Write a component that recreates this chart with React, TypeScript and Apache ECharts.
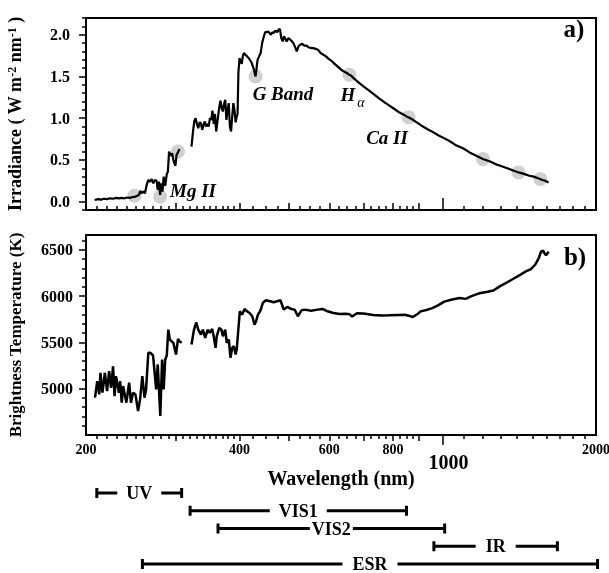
import React, { useEffect, useRef } from "react";
import * as echarts from "echarts";

const FONT = '"Liberation Serif", "Times New Roman", serif';
const lg = (w: number) => Math.log10(w);

// x axis (wavelength, nm, log scale)
const X_MIN_NM = 200;
const X_MAX_NM = 2000;
const xLabelNm = [200, 400, 600, 800, 2000];
const xBigLabelNm = [1000];
const xMajorTickNm = [300, 400, 500, 600, 700, 800, 900];
const xMinorTickNm = [
  210, 220, 230, 240, 250, 260, 270, 280, 290, 310, 320, 330, 340, 350, 360, 370, 380, 390,
  425, 450, 475, 525, 550, 575, 625, 650, 675, 725, 750, 775, 825, 850, 875,
  1100, 1200, 1300, 1400, 1500, 1600, 1700, 1800, 1900,
];

// panel a) irradiance
const IRR_MIN = -0.1;
const IRR_MAX = 2.2;
const irrLabels = [0, 0.5, 1.0, 1.5, 2.0];
const irrMinorTicks = [
  -0.1, 0.1, 0.2, 0.3, 0.4, 0.6, 0.7, 0.8, 0.9, 1.1, 1.2, 1.3, 1.4, 1.6, 1.7, 1.8, 1.9, 2.1, 2.2,
];
const irrUV: [number, number][] = [
  [208, 0.02], [211, 0.03], [214, 0.025], [217, 0.035], [220, 0.03], [223, 0.04], [226, 0.035],
  [229, 0.045], [232, 0.04], [235, 0.045], [238, 0.04], [241, 0.05], [244, 0.045], [247, 0.055],
  [250, 0.06], [252, 0.07], [254, 0.08], [255.5, 0.13], [257, 0.1], [259, 0.12], [261, 0.1],
  [263, 0.2], [265, 0.26], [267, 0.24], [269, 0.27], [271, 0.22], [273, 0.26], [275, 0.25],
  [276.5, 0.14], [278, 0.24], [279.5, 0.08], [281, 0.22], [282.5, 0.12], [284, 0.3], [286, 0.19],
  [288, 0.33], [289.5, 0.36], [291, 0.6], [293, 0.55], [295, 0.58], [297, 0.49], [299.5, 0.43],
  [301, 0.56], [303, 0.59], [305, 0.63],
];
const irrVis: [number, number][] = [
  [322, 0.66], [324, 0.82], [326, 0.96], [328, 1.0], [330, 0.93], [332, 0.88], [334, 0.95],
  [336, 0.94], [338, 0.86], [340, 0.92], [342, 0.96], [344, 0.9], [346, 0.93], [348, 0.9],
  [350, 1.0], [352, 0.98], [354, 1.09], [356, 0.93], [358, 1.05], [360, 0.84], [362, 0.96],
  [365, 1.13], [367, 1.21], [369, 1.12], [371, 1.08], [373, 1.17], [375, 1.22], [377, 0.98],
  [379, 1.1], [381, 1.18], [383, 0.9], [385, 0.84], [387, 1.02], [389, 1.18], [391, 1.1],
  [393, 0.95], [395, 1.02], [396.5, 1.05], [398, 1.55], [400, 1.72], [402, 1.68], [404, 1.65],
  [406, 1.74], [408, 1.78], [411, 1.76], [414, 1.74], [418, 1.71], [422, 1.67], [426, 1.6],
  [428, 1.55], [430, 1.5], [432, 1.6], [434, 1.7], [437, 1.74], [440, 1.78], [443, 1.9],
  [446, 1.97], [449, 2.03], [452, 2.03], [455, 2.04], [458, 2.02], [461, 2.0], [464, 2.03],
  [467, 2.02], [470, 2.05], [474, 2.03], [477, 2.06], [480, 2.07], [483, 1.96], [486, 1.92],
  [489, 1.98], [492, 1.95], [495, 1.92], [499, 1.96], [503, 1.94], [507, 1.92], [511, 1.89],
  [515, 1.84], [518, 1.8], [522, 1.86], [526, 1.88], [531, 1.89], [536, 1.87], [541, 1.87],
  [546, 1.85], [552, 1.84], [558, 1.84], [564, 1.83], [570, 1.82], [577, 1.78], [584, 1.76],
  [591, 1.74], [598, 1.71], [605, 1.69], [612, 1.66], [620, 1.63], [628, 1.6], [636, 1.57],
  [645, 1.55], [650, 1.54], [656, 1.52], [662, 1.51], [672, 1.47], [687, 1.42], [700, 1.38],
  [715, 1.34], [732, 1.29], [750, 1.24], [770, 1.19], [787, 1.15], [805, 1.11], [822, 1.07],
  [840, 1.04], [857, 1.01], [870, 0.99], [890, 0.95], [910, 0.91], [933, 0.87], [960, 0.83],
  [985, 0.79], [1000, 0.77], [1030, 0.73], [1060, 0.68], [1097, 0.64], [1130, 0.59],
  [1165, 0.55], [1200, 0.51], [1240, 0.48], [1270, 0.45], [1298, 0.43], [1340, 0.4],
  [1380, 0.37], [1410, 0.35], [1450, 0.33], [1480, 0.31], [1509, 0.3], [1540, 0.28],
  [1570, 0.26], [1590, 0.25], [1614, 0.23],
];
const markerPoints: [number, number][] = [
  [249, 0.07], [279.5, 0.06], [303, 0.6], [430, 1.5], [657, 1.52], [858, 1.01], [1200, 0.51],
  [1410, 0.35], [1556, 0.27],
];

// panel b) brightness temperature
const TB_MIN = 4500;
const TB_MAX = 6660;
const tbLabels = [5000, 5500, 6000, 6500];
const tbMinorTicks = [
  4600, 4700, 4800, 4900, 5100, 5200, 5300, 5400, 5600, 5700, 5800, 5900, 6100, 6200, 6300, 6400, 6600,
];
const tbUV: [number, number][] = [
  [208.3, 4903], [210.4, 5082], [212.3, 4939], [213.5, 5172], [215.4, 4957], [217.8, 5172],
  [220, 4974], [222, 5190], [224, 5010], [226, 5243], [227.5, 4920], [229, 5136], [232, 4957],
  [233.3, 5082], [235, 4849], [236.5, 5028], [240, 4849], [243, 5065], [245, 4849], [247.3, 4957],
  [250, 4939], [253, 4759], [255.3, 4885], [257.9, 5136], [260.5, 4903], [262.3, 4992],
  [265, 5388], [267.5, 5388], [270.7, 5359], [272.3, 5208], [274.5, 4992], [276.5, 5262],
  [279.7, 4705], [282, 5315], [284, 4992], [286, 5315], [288, 5359], [290, 5638], [292, 5531],
  [296.7, 5495], [300.3, 5369], [303, 5538], [305, 5513], [308, 5495],
];
const tbVis: [number, number][] = [
  [322, 5477], [325.7, 5638], [329, 5717], [332, 5638], [336, 5585], [339, 5638], [342.6, 5549],
  [346.5, 5638], [349.6, 5603], [353.5, 5646], [356, 5567], [359, 5441], [361, 5567], [365, 5657],
  [368.6, 5638], [371, 5567], [375, 5638], [377.6, 5495], [381.2, 5531], [384, 5334], [387, 5441],
  [390, 5459], [393, 5369], [395, 5423], [398, 5650], [400.5, 5836], [404.6, 5800], [409.4, 5861],
  [413.6, 5836], [418.6, 5818], [423.7, 5782], [428, 5692], [431, 5728], [434.6, 5800],
  [439, 5836], [444.5, 5926], [450, 5955], [459.6, 5944], [466.6, 5933], [473.8, 5944],
  [481, 5955], [488.5, 5854], [496, 5883], [505, 5861], [513, 5854], [520.6, 5782], [529, 5847],
  [537, 5854], [552.6, 5843], [569, 5854], [582, 5861], [595, 5836], [611, 5818], [628.6, 5807],
  [645, 5810], [657, 5805], [665, 5780], [680, 5815], [700, 5812], [731, 5795], [760, 5790],
  [786, 5792], [820, 5797], [844, 5798], [862, 5785], [875, 5775], [895, 5810], [906, 5835],
  [930, 5850], [955, 5870], [980, 5900], [1008, 5940], [1040, 5960], [1080, 5980], [1110, 5970],
  [1140, 6000], [1180, 6030], [1220, 6045], [1258, 6060], [1300, 6110], [1340, 6150],
  [1380, 6190], [1420, 6230], [1460, 6270], [1490, 6290], [1520, 6340], [1545, 6410],
  [1560, 6480], [1575, 6490], [1590, 6450], [1600, 6445], [1614, 6480],
];

// instrument ranges
const bandNames = ["UV", "VIS1", "VIS2", "IR", "ESR"];
const bandStartNm = [210, 320, 363, 962, 258];
const bandEndNm = [308, 850, 1010, 1680, 2014];
const bandGap = [9, 9, 2, 10, 10];

const BLACK = "#000";

export default function App() {
  const ref = useRef<HTMLDivElement>(null);
  useEffect(() => {
    if (!ref.current) return;
    const chart = echarts.init(ref.current, undefined, { renderer: "svg" });
    const xmin = lg(X_MIN_NM);
    const xmax = lg(X_MAX_NM);
    const toXY = (arr: [number, number][]) => arr.map(([w, v]) => [lg(w), v]);
    const tickAxisX = (gridIndex: number, values: number[], len: number, inside: boolean) => ({
      type: "value",
      gridIndex,
      min: xmin,
      max: xmax,
      position: "bottom",
      axisLine: { show: false, onZero: false },
      splitLine: { show: false },
      axisLabel: { show: false },
      axisTick: {
        show: true,
        inside,
        length: len,
        customValues: values.map(lg),
        lineStyle: { color: BLACK, width: 1.5 },
      },
    });
    const tickAxisY = (gridIndex: number, min: number, max: number, values: number[], len: number) => ({
      type: "value",
      gridIndex,
      min,
      max,
      position: "left",
      axisLine: { show: false, onZero: false },
      splitLine: { show: false },
      axisLabel: { show: false },
      axisTick: {
        show: true,
        length: len,
        customValues: values,
        lineStyle: { color: BLACK, width: 1.5 },
      },
    });
    const labelStyle = { fontFamily: FONT, fontWeight: "bold", color: BLACK };
    const lineW = 2.2;
    const gridBase = {
      left: 86,
      right: 13,
      containLabel: false,
      outerBoundsMode: "none",
      borderColor: BLACK,
      borderWidth: 2,
      backgroundColor: "transparent",
    };

    const option: any = {
      animation: false,
      textStyle: { fontFamily: FONT },
      grid: [
        { ...gridBase, top: 18, height: 192, show: true },
        { ...gridBase, top: 235, height: 200, show: true },
        { ...gridBase, top: 493, height: 71, show: false },
      ],
      xAxis: [
        tickAxisX(0, xMinorTickNm, 4, true),
        tickAxisX(0, xMajorTickNm, 7, true),
        tickAxisX(0, xBigLabelNm, 12, true),
        {
          ...tickAxisX(1, xMinorTickNm, 4, false),
          axisLabel: {
            show: true,
            customValues: xLabelNm.map(lg),
            formatter: (v: number) => String(Math.round(Math.pow(10, v))),
            fontSize: 14,
            margin: 7,
            ...labelStyle,
          },
          name: "Wavelength (nm)",
          nameLocation: "middle",
          nameGap: 33,
          nameTextStyle: { fontSize: 20, ...labelStyle },
        },
        tickAxisX(1, xMajorTickNm, 6, false),
        {
          ...tickAxisX(1, xBigLabelNm, 10, false),
          axisLabel: {
            show: true,
            customValues: xBigLabelNm.map(lg),
            formatter: (v: number) => String(Math.round(Math.pow(10, v))),
            fontSize: 20,
            margin: 17,
            padding: [0, 0, 0, 12],
            ...labelStyle,
          },
        },
        { type: "value", gridIndex: 2, min: xmin, max: xmax, show: false },
      ],
      yAxis: [
        {
          ...tickAxisY(0, IRR_MIN, IRR_MAX, irrLabels, 7),
          axisLabel: {
            show: true,
            customValues: irrLabels,
            formatter: (v: number) => v.toFixed(1),
            fontSize: 16,
            margin: 16,
            ...labelStyle,
          },
          name: "Irradiance ( W m{sup|-2} nm{sup|-1} )",
          nameLocation: "middle",
          nameGap: 62,
          nameTextStyle: {
            fontSize: 18,
            ...labelStyle,
            rich: {
              sup: { fontSize: 12, fontFamily: FONT, fontWeight: "bold", color: BLACK, verticalAlign: "top" },
            },
          },
        },
        tickAxisY(0, IRR_MIN, IRR_MAX, irrMinorTicks, 4),
        {
          ...tickAxisY(1, TB_MIN, TB_MAX, tbLabels, 7),
          axisLabel: {
            show: true,
            customValues: tbLabels,
            formatter: (v: number) => String(Math.round(v)),
            fontSize: 16,
            margin: 13,
            ...labelStyle,
          },
          name: "Brightness Temperature (K)",
          nameLocation: "middle",
          nameGap: 62,
          nameTextStyle: { fontSize: 17, ...labelStyle },
        },
        tickAxisY(1, TB_MIN, TB_MAX, tbMinorTicks, 4),
        { type: "value", gridIndex: 2, min: 0, max: 4, inverse: true, show: false },
      ],
      series: [
        {
          type: "scatter",
          xAxisIndex: 0,
          yAxisIndex: 0,
          data: toXY(markerPoints),
          symbolSize: 14,
          itemStyle: { color: "#c4c4c4" },
          z: 1,
          silent: true,
        },
        {
          type: "line",
          xAxisIndex: 0,
          yAxisIndex: 0,
          data: toXY(irrUV),
          showSymbol: false,
          lineStyle: { color: BLACK, width: lineW },
          z: 3,
        },
        {
          type: "line",
          xAxisIndex: 0,
          yAxisIndex: 0,
          data: toXY(irrVis),
          showSymbol: false,
          lineStyle: { color: BLACK, width: lineW },
          z: 3,
        },
        {
          type: "line",
          xAxisIndex: 3,
          yAxisIndex: 2,
          data: toXY(tbUV),
          showSymbol: false,
          lineStyle: { color: BLACK, width: lineW + 0.3 },
          z: 3,
        },
        {
          type: "line",
          xAxisIndex: 3,
          yAxisIndex: 2,
          data: toXY(tbVis),
          showSymbol: false,
          lineStyle: { color: BLACK, width: lineW + 0.3 },
          z: 3,
        },
        {
          type: "custom",
          xAxisIndex: 6,
          yAxisIndex: 4,
          data: bandNames.map((_, i) => [lg(bandStartNm[i]), lg(bandEndNm[i]), i]),
          renderItem: (params: any, api: any) => {
            const i = params.dataIndex;
            const s = api.coord([api.value(0), api.value(2)]);
            const e = api.coord([api.value(1), api.value(2)]);
            const y = s[1];
            const cap = 5;
            const ls = { stroke: BLACK, lineWidth: 3 };
            return {
              type: "group",
              children: [
                { type: "line", shape: { x1: s[0], y1: y, x2: e[0], y2: y }, style: ls },
                { type: "line", shape: { x1: s[0], y1: y - cap, x2: s[0], y2: y + cap }, style: ls },
                { type: "line", shape: { x1: e[0], y1: y - cap, x2: e[0], y2: y + cap }, style: ls },
                {
                  type: "text",
                  x: (s[0] + e[0]) / 2,
                  y,
                  style: {
                    text: bandNames[i],
                    font: `bold 18px ${FONT}`,
                    fill: BLACK,
                    align: "center",
                    verticalAlign: "middle",
                    backgroundColor: "#fff",
                    padding: [0, bandGap[i]],
                  },
                },
              ],
            };
          },
        },
      ],
      graphic: [
        { type: "text", x: 193, y: 190, style: { text: "Mg II", font: `italic bold 19px ${FONT}`, fill: BLACK, align: "center", verticalAlign: "middle" } },
        { type: "text", x: 283, y: 93, style: { text: "G Band", font: `italic bold 19px ${FONT}`, fill: BLACK, align: "center", verticalAlign: "middle" } },
        { type: "text", x: 348, y: 94, style: { text: "H", font: `italic bold 19px ${FONT}`, fill: BLACK, align: "center", verticalAlign: "middle" } },
        { type: "text", x: 361, y: 102, style: { text: "α", font: `italic 14px ${FONT}`, fill: BLACK, align: "center", verticalAlign: "middle" } },
        { type: "text", x: 387, y: 137, style: { text: "Ca II", font: `italic bold 19px ${FONT}`, fill: BLACK, align: "center", verticalAlign: "middle" } },
        { type: "text", x: 574, y: 28, style: { text: "a)", font: `bold 25px ${FONT}`, fill: BLACK, align: "center", verticalAlign: "middle" } },
        { type: "text", x: 575, y: 256, style: { text: "b)", font: `bold 25px ${FONT}`, fill: BLACK, align: "center", verticalAlign: "middle" } },
      ],
    };
    chart.setOption(option);
    return () => chart.dispose();
  }, []);
  return <div ref={ref} style={{ position: "fixed", left: 0, top: 0, width: 609, height: 573 }} />;
}
